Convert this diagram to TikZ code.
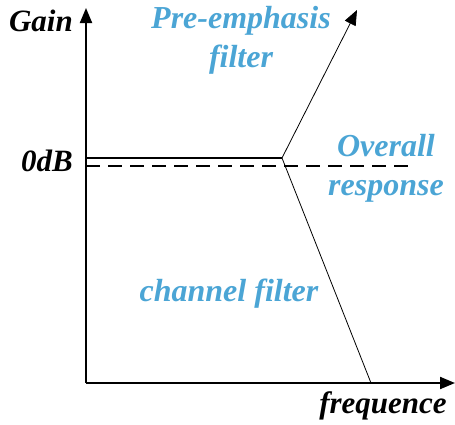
\documentclass[tikz,border=0pt]{standalone}
\usepackage{fontspec}
\setmainfont{Liberation Serif}
\usetikzlibrary{arrows.meta}
\definecolor{labelblue}{RGB}{75,165,213}
\tikzstyle{axis}=[line width=2pt,-{Triangle[length=15pt,width=12pt]}]
\tikzstyle{curve}=[line width=0.8pt]
\tikzstyle{axislabel}=[font=\fontsize{31}{34}\selectfont\bfseries\itshape,text=black,inner sep=0pt]
\tikzstyle{filterlabel}=[font=\fontsize{32}{39}\selectfont\bfseries\itshape,text=labelblue,align=center,inner sep=0pt]

\begin{document}
\begin{tikzpicture}[x=1pt,y=-1pt]
  \useasboundingbox (0,0) rectangle (455,424);

  % Axes.
  \coordinate (origin) at (86,383);
  \coordinate (ytip) at (86,8);
  \coordinate (xtip) at (455,383);
  \draw[axis] (origin) -- (ytip);
  \draw[axis] (origin) -- (xtip);

  % Axis labels.
  \node[axislabel,anchor=east] (gain) at (73,21) {Gain};
  \node[axislabel,anchor=east] (zerodb) at (73,161) {0dB};
  \node[axislabel] (freq) at (383,406) {frequence};

  % 0dB levels.
  \coordinate (knee) at (282,158);
  \draw[line width=1.4pt] (86,158) -- (knee);
  \draw[line width=1.4pt,dash pattern=on 14pt off 8pt] (86,166) -- (411,166);

  % Filter slopes.
  \coordinate (uptip) at (357,10);
  \coordinate (downend) at (371,383);
  \draw[curve,-{Triangle[length=15pt,width=12pt]}] (knee) -- (uptip);
  \draw[curve] (knee) -- (downend);

  % Filter labels.
  \node[filterlabel] (pre) at (241,40) {Pre-emphasis\\filter};
  \node[filterlabel] (overall) at (386,168) {Overall\\response};
  \node[filterlabel] (channel) at (229,294) {channel filter};
\end{tikzpicture}
\end{document}
